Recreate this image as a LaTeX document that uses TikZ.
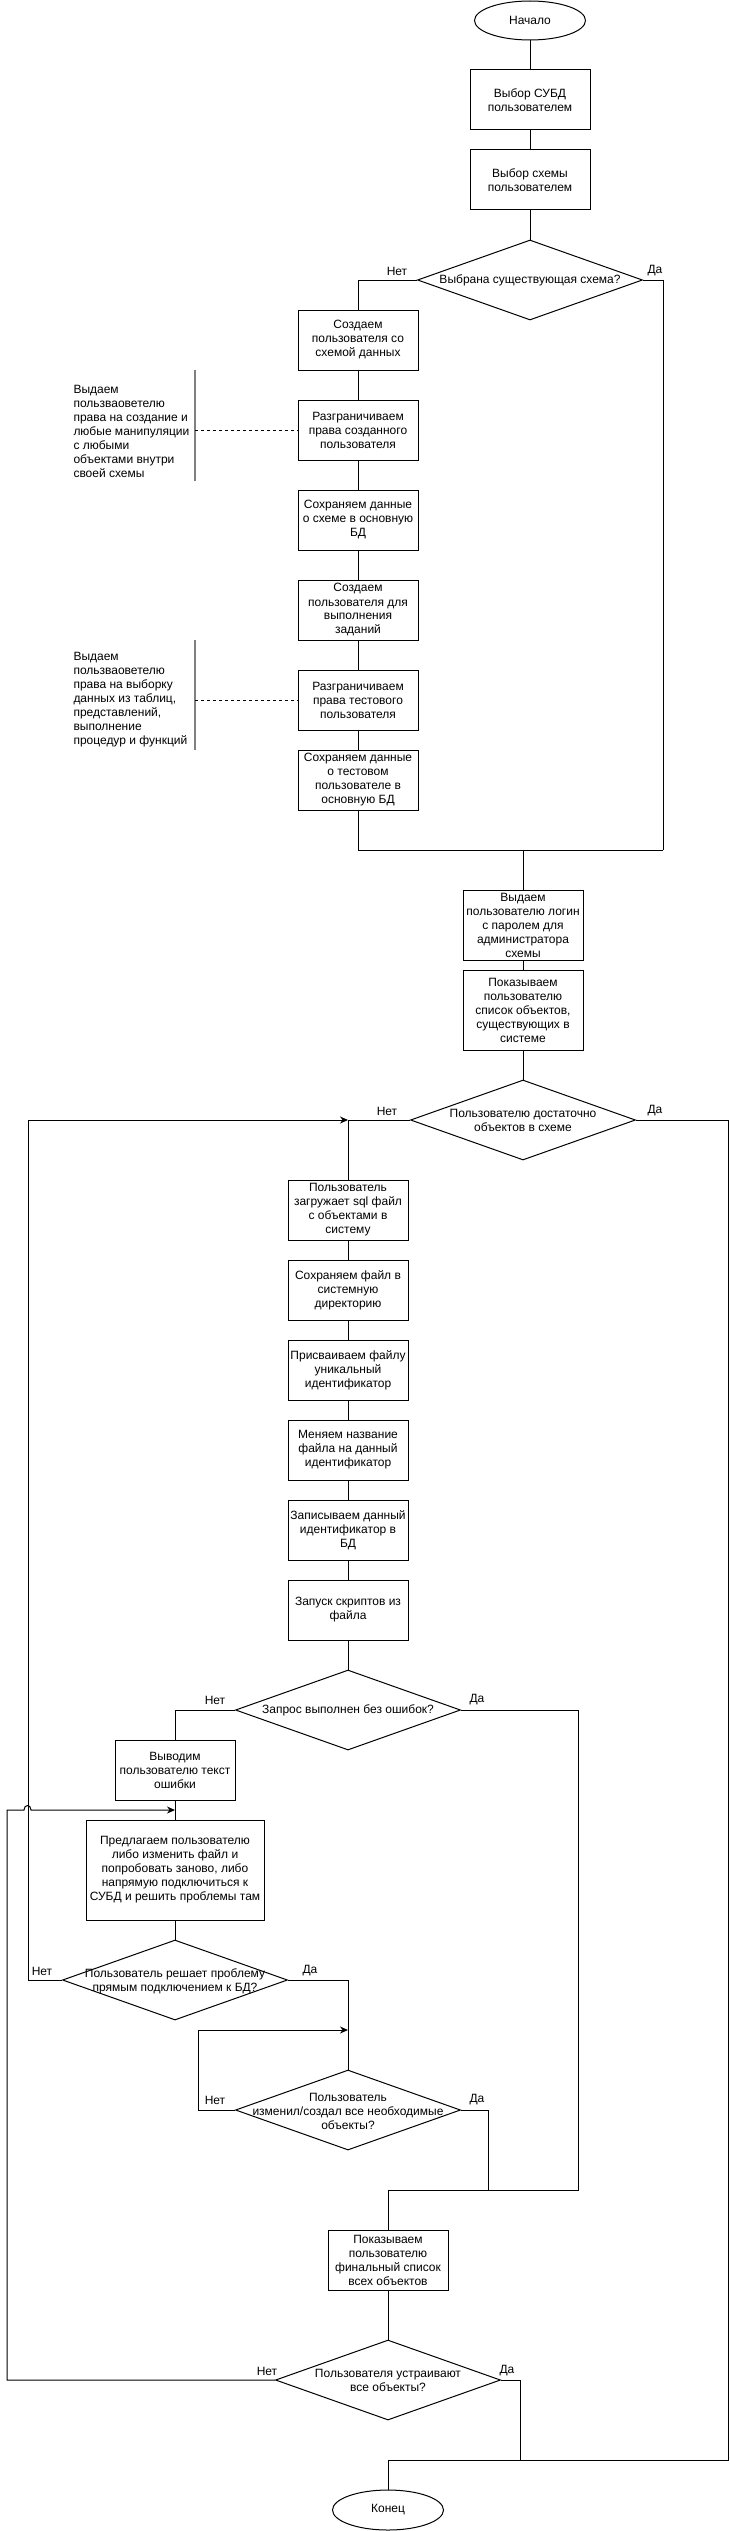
\documentclass[tikz,border=0pt]{standalone}
\usepackage{fontspec}
\setmainfont{Liberation Sans}
\usetikzlibrary{shapes.geometric,arrows.meta}
\begin{document}
\begin{tikzpicture}[x=1pt,y=-1pt,line width=1pt,
  every node/.style={font=\fontsize{12}{14}\selectfont},
  proc/.style={draw,rectangle,minimum width=120pt,minimum height=60pt,inner sep=0pt,align=center},
  term/.style={draw,ellipse,minimum width=111pt,minimum height=39pt,inner sep=0pt},
  dec/.style={draw,diamond,minimum width=225pt,minimum height=80pt,inner sep=0pt},
  dtext/.style={align=center,inner sep=0pt},
  lbl/.style={inner sep=0pt},
  note/.style={align=left,anchor=west,inner sep=0pt},
  back/.style={-{Stealth[length=8pt,width=7pt]}},
  brk/.style={draw=gray,line width=1.3pt},
  dotline/.style={dash pattern=on 3pt off 3pt}
]
\useasboundingbox (0,0) rectangle (729,2531);

% ---- top part
\node[term] (start) at (530,20.5) {Начало};
\node[proc] (b1) at (530,100) {Выбор СУБД\\пользователем};
\node[proc] (b2) at (530,180) {Выбор схемы\\пользователем};
\node[dec] (d1) at (530,280) {};
\node[dtext] (d1t) at (530,280) {Выбрана существующая схема?};
\node[lbl] (n1) at (397,271) {Нет};
\node[lbl] (y1) at (655,271) {Да};

\node[proc] (b3) at (358,340) {Создаем\\пользователя со\\схемой данных};
\node[proc] (b4) at (358,430) {Разграничиваем\\права созданного\\пользователя};
\node[proc] (b5) at (358,520) {Сохраняем данные\\о схеме в основную\\БД};
\node[proc] (b6) at (358,610) {Создаем\\пользователя для\\выполнения\\заданий};
\node[proc] (b7) at (358,700) {Разграничиваем\\права тестового\\пользователя};
\node[proc] (b8) at (358,780) {Сохраняем данные\\о тестовом\\пользователе в\\основную БД};

\node[note] (a1) at (73,431) {Выдаем\\пользваоветелю\\права на создание и\\любые манипуляции\\с любыми\\объектами внутри\\своей схемы};
\coordinate (a1t) at (195,370);
\coordinate (a1b) at (195,481);
\coordinate (a1m) at (195,430);
\draw[brk] (a1t) -- (a1b);
\draw[dotline] (a1m) -- (b4.west);

\node[note] (a2) at (73,700) {Выдаем\\пользваоветелю\\права на выборку\\данных из таблиц,\\представлений,\\выполнение\\процедур и функций};
\coordinate (a2t) at (195,640);
\coordinate (a2b) at (195,750);
\coordinate (a2m) at (195,700);
\draw[brk] (a2t) -- (a2b);
\draw[dotline] (a2m) -- (b7.west);

\draw (start) -- (b1);
\draw (b1) -- (b2);
\draw (b2) -- (d1);
\draw (d1.west) -| (b3.north);
\draw (b3) -- (b4);
\draw (b4) -- (b5);
\draw (b5) -- (b6);
\draw (b6) -- (b7);
\draw (b7) -- (b8);
\coordinate (m1r) at (663,850);
\coordinate (m1c) at (523,850);
\draw (d1.east) -| (m1r);
\draw (b8.south) |- (m1r);

% ---- middle part
\node[proc,minimum height=70pt] (b9) at (523,925) {Выдаем\\пользователю логин\\с паролем для\\администратора\\схемы};
\node[proc,minimum height=80pt] (b10) at (523,1010) {Показываем\\пользователю\\список объектов,\\существующих в\\системе};
\draw (m1c) -- (b9.north);
\draw (b9) -- (b10);

\node[dec] (d2) at (523,1120) {};
\node[dtext] (d2t) at (523,1120) {Пользователю достаточно\\объектов в схеме};
\node[lbl] (n2) at (387,1111) {Нет};
\node[lbl] (y2) at (655,1111) {Да};
\draw (b10) -- (d2);

\node[proc] (b11) at (348,1210) {Пользователь\\загружает sql файл\\с объектами в\\систему};
\node[proc] (b12) at (348,1290) {Сохраняем файл в\\системную\\директорию};
\node[proc] (b13) at (348,1370) {Присваиваем файлу\\уникальный\\идентификатор};
\node[proc] (b14) at (348,1450) {Меняем название\\файла на данный\\идентификатор};
\node[proc] (b15) at (348,1530) {Записываем данный\\идентификатор в\\БД};
\node[proc] (b16) at (348,1610) {Запуск скриптов из\\файла};

\coordinate (j1) at (348,1120);
\draw (d2.west) -- (j1) -- (b11.north);
\draw (b11) -- (b12);
\draw (b12) -- (b13);
\draw (b13) -- (b14);
\draw (b14) -- (b15);
\draw (b15) -- (b16);

\node[dec] (d3) at (348,1710) {};
\node[dtext] (d3t) at (348,1710) {Запрос выполнен без ошибок?};
\node[lbl] (n3) at (215,1700) {Нет};
\node[lbl] (y3) at (477,1700) {Да};
\draw (b16) -- (d3);

\node[proc] (b17) at (175,1770) {Выводим\\пользователю текст\\ошибки};
\node[proc,minimum width=178pt,minimum height=100pt] (b18) at (175,1870) {Предлагаем пользователю\\либо изменить файл и\\попробовать заново, либо\\напрямую подключиться к\\СУБД и решить проблемы там};
\draw (d3.west) -| (b17.north);
\draw (b17) -- (b18);

\node[dec] (d4) at (175,1980) {};
\node[dtext] (d4t) at (175,1981) {Пользователь решает проблему\\прямым подключением к БД?};
\node[lbl] (n4) at (42,1971) {Нет};
\node[lbl] (y4) at (310,1971) {Да};
\draw (b18) -- (d4);

\coordinate (l1top) at (28,1120);
\coordinate (l1bot) at (28,1980);
\draw[back] (d4.west) -- (l1bot) -- (l1top) -- (j1);

\node[dec] (d5) at (348,2110) {};
\node[dtext] (d5t) at (348,2111) {Пользователь\\изменил/создал все необходимые\\объекты?};
\node[lbl] (n5) at (215,2100) {Нет};
\node[lbl] (y5) at (477,2100) {Да};

\coordinate (j2) at (348,1980);
\draw (d4.east) -- (j2) -- (d5.north);
\coordinate (j3) at (348,2030);
\coordinate (l2a) at (198,2110);
\coordinate (l2b) at (198,2030);
\draw[back] (d5.west) -- (l2a) -- (l2b) -- (j3);

% ---- bottom part
\coordinate (m2r) at (578,2190);
\coordinate (m2a) at (488,2190);
\coordinate (m2c) at (388,2190);
\node[proc] (b19) at (388,2260) {Показываем\\пользователю\\финальный список\\всех объектов};
\draw (d3.east) -| (m2r) -- (m2c) -- (b19.north);
\draw (d5.east) -| (m2a);

\node[dec] (d6) at (388,2380) {};
\node[dtext] (d6t) at (388,2380) {Пользователя устраивают\\все объекты?};
\node[lbl] (n6) at (267,2371) {Нет};
\node[lbl] (y6) at (507,2371) {Да};
\draw (b19) -- (d6);

\coordinate (l3a) at (7,2380);
\coordinate (l3b) at (7,1810);
\coordinate (hop1) at (24,1810);
\coordinate (hop2) at (31,1810);
\coordinate (j4) at (175,1810);
\draw[back] (d6.west) -- (l3a) -- (l3b) -- (hop1) .. controls (24,1804) and (31,1804) .. (hop2) -- (j4);

\node[term,minimum height=40pt] (end) at (388,2510) {Конец};
\coordinate (r1) at (728,1120);
\coordinate (r1b) at (728,2460);
\coordinate (m3) at (388,2460);
\coordinate (r2) at (520,2460);
\draw (d2.east) -- (r1) -- (r1b) -- (m3) -- (end.north);
\draw (d6.east) -| (r2);
\end{tikzpicture}
\end{document}
